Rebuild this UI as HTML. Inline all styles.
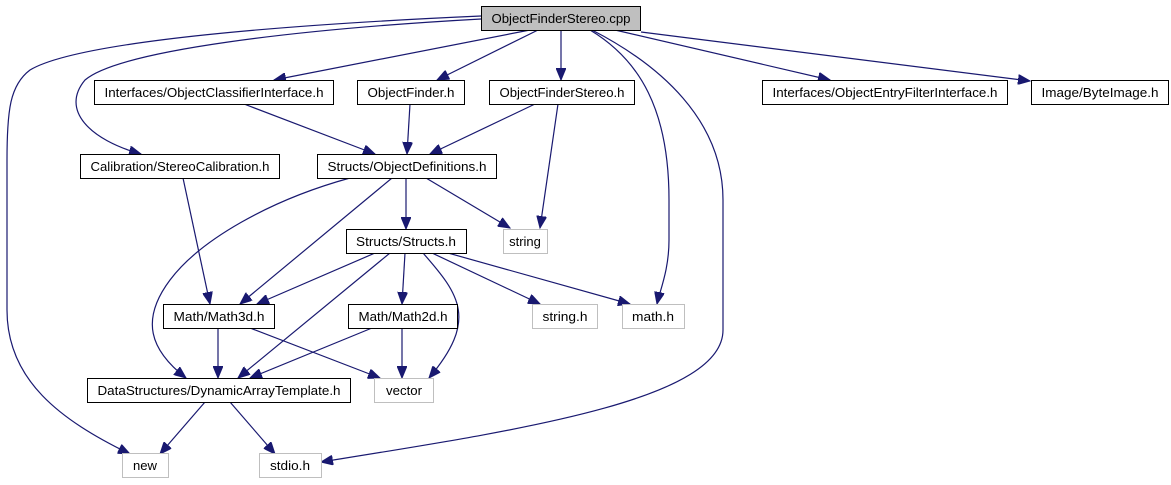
<!DOCTYPE html>
<html><head><meta charset="utf-8"><style>
html,body{margin:0;padding:0;background:#fff;width:1171px;height:485px;overflow:hidden}
svg text{font-family:"Liberation Sans",Arial,sans-serif;font-size:13px;fill:#000}
</style></head><body>
<svg width="1171" height="485" viewBox="0 0 1171 485" xmlns="http://www.w3.org/2000/svg">
<defs>
<marker id="a" markerUnits="userSpaceOnUse" markerWidth="13" markerHeight="10" refX="12" refY="5" orient="auto">
<path d="M0,0 L12,5 L0,10 Z" fill="#191970" stroke="#191970"/>
</marker>
</defs>
<g fill="none" stroke="#191970" stroke-width="1.2" marker-end="url(#a)">
<path d="M530,30 L274,80"/>
<path d="M538,30 L437,80"/>
<path d="M561,30 L561,80"/>
<path d="M615,30 L830,80"/>
<path d="M641,32 L1030,81"/>
<path d="M590,30 C640,60 669,110 669,200 L669,240 C669,270 660,290 657,304"/>
<path d="M592,30 C660,65 723,120 723,200 L723,330 C723,400 520,430 321,462"/>
<path d="M481,16 C300,24 80,40 30,70 C10,85 7,110 7,160 L7,310 C7,380 60,420 130,454"/>
<path d="M481,19 C300,29 120,50 85,80 C60,110 90,140 141,154"/>
<path d="M244,104 L375,154"/>
<path d="M410,104 L407,154"/>
<path d="M535,104 L430,154"/>
<path d="M558,104 L540,228"/>
<path d="M183,178 L210,304"/>
<path d="M350,178 C270,200 200,240 170,280 C140,320 150,350 186,378"/>
<path d="M392,178 L240,304"/>
<path d="M406,178 L406,229"/>
<path d="M426,178 L510,228"/>
<path d="M375,253 L257,304"/>
<path d="M390,253 L238,378"/>
<path d="M405,253 L402,304"/>
<path d="M423,253 C460,295 478,320 429,378"/>
<path d="M432,253 L540,304"/>
<path d="M448,253 L630,304"/>
<path d="M218,328 L218,378"/>
<path d="M250,328 L380,378"/>
<path d="M372,328 L250,378"/>
<path d="M402,328 L402,378"/>
<path d="M205,402 L160,454"/>
<path d="M230,402 L275,454"/>
</g>
<g stroke="#000" stroke-width="1" fill="#fff">
<rect x="481.5" y="6.5" width="159" height="24" fill="#bfbfbf"/>
<rect x="94.5" y="80.5" width="239" height="24"/>
<rect x="357.5" y="80.5" width="107" height="24"/>
<rect x="489.5" y="80.5" width="145" height="24"/>
<rect x="762.5" y="80.5" width="245" height="24"/>
<rect x="1031.5" y="80.5" width="137" height="24"/>
<rect x="80.5" y="154.5" width="199" height="24"/>
<rect x="317.5" y="154.5" width="179" height="24"/>
<rect x="346.5" y="229.5" width="120" height="24"/>
<rect x="163.5" y="304.5" width="111" height="24"/>
<rect x="348.5" y="304.5" width="109" height="24"/>
<rect x="87.5" y="378.5" width="263" height="24"/>
</g>
<g stroke="#bfbfbf" stroke-width="1" fill="#fff">
<rect x="503.5" y="229.5" width="44" height="24"/>
<rect x="532.5" y="304.5" width="65" height="24"/>
<rect x="622.5" y="304.5" width="62" height="24"/>
<rect x="374.5" y="378.5" width="59" height="24"/>
<rect x="122.5" y="453.5" width="46" height="24"/>
<rect x="259.5" y="453.5" width="62" height="24"/>
</g>
<g text-anchor="middle">
<text x="561" y="23" textLength="139" lengthAdjust="spacingAndGlyphs">ObjectFinderStereo.cpp</text>
<text x="214" y="97" textLength="219" lengthAdjust="spacingAndGlyphs">Interfaces/ObjectClassifierInterface.h</text>
<text x="411" y="97" textLength="87" lengthAdjust="spacingAndGlyphs">ObjectFinder.h</text>
<text x="562" y="97" textLength="125" lengthAdjust="spacingAndGlyphs">ObjectFinderStereo.h</text>
<text x="885" y="97" textLength="225" lengthAdjust="spacingAndGlyphs">Interfaces/ObjectEntryFilterInterface.h</text>
<text x="1100" y="97" textLength="117" lengthAdjust="spacingAndGlyphs">Image/ByteImage.h</text>
<text x="180" y="171" textLength="179" lengthAdjust="spacingAndGlyphs">Calibration/StereoCalibration.h</text>
<text x="407" y="171" textLength="159" lengthAdjust="spacingAndGlyphs">Structs/ObjectDefinitions.h</text>
<text x="406" y="246" textLength="100" lengthAdjust="spacingAndGlyphs">Structs/Structs.h</text>
<text x="525" y="246">string</text>
<text x="219" y="321" textLength="91" lengthAdjust="spacingAndGlyphs">Math/Math3d.h</text>
<text x="403" y="321" textLength="89" lengthAdjust="spacingAndGlyphs">Math/Math2d.h</text>
<text x="565" y="321" textLength="45" lengthAdjust="spacingAndGlyphs">string.h</text>
<text x="653" y="321" textLength="42" lengthAdjust="spacingAndGlyphs">math.h</text>
<text x="219" y="395" textLength="243" lengthAdjust="spacingAndGlyphs">DataStructures/DynamicArrayTemplate.h</text>
<text x="404" y="395" textLength="36" lengthAdjust="spacingAndGlyphs">vector</text>
<text x="145" y="470" textLength="24" lengthAdjust="spacingAndGlyphs">new</text>
<text x="290" y="470" textLength="40" lengthAdjust="spacingAndGlyphs">stdio.h</text>
</g>
</svg>
</body></html>
